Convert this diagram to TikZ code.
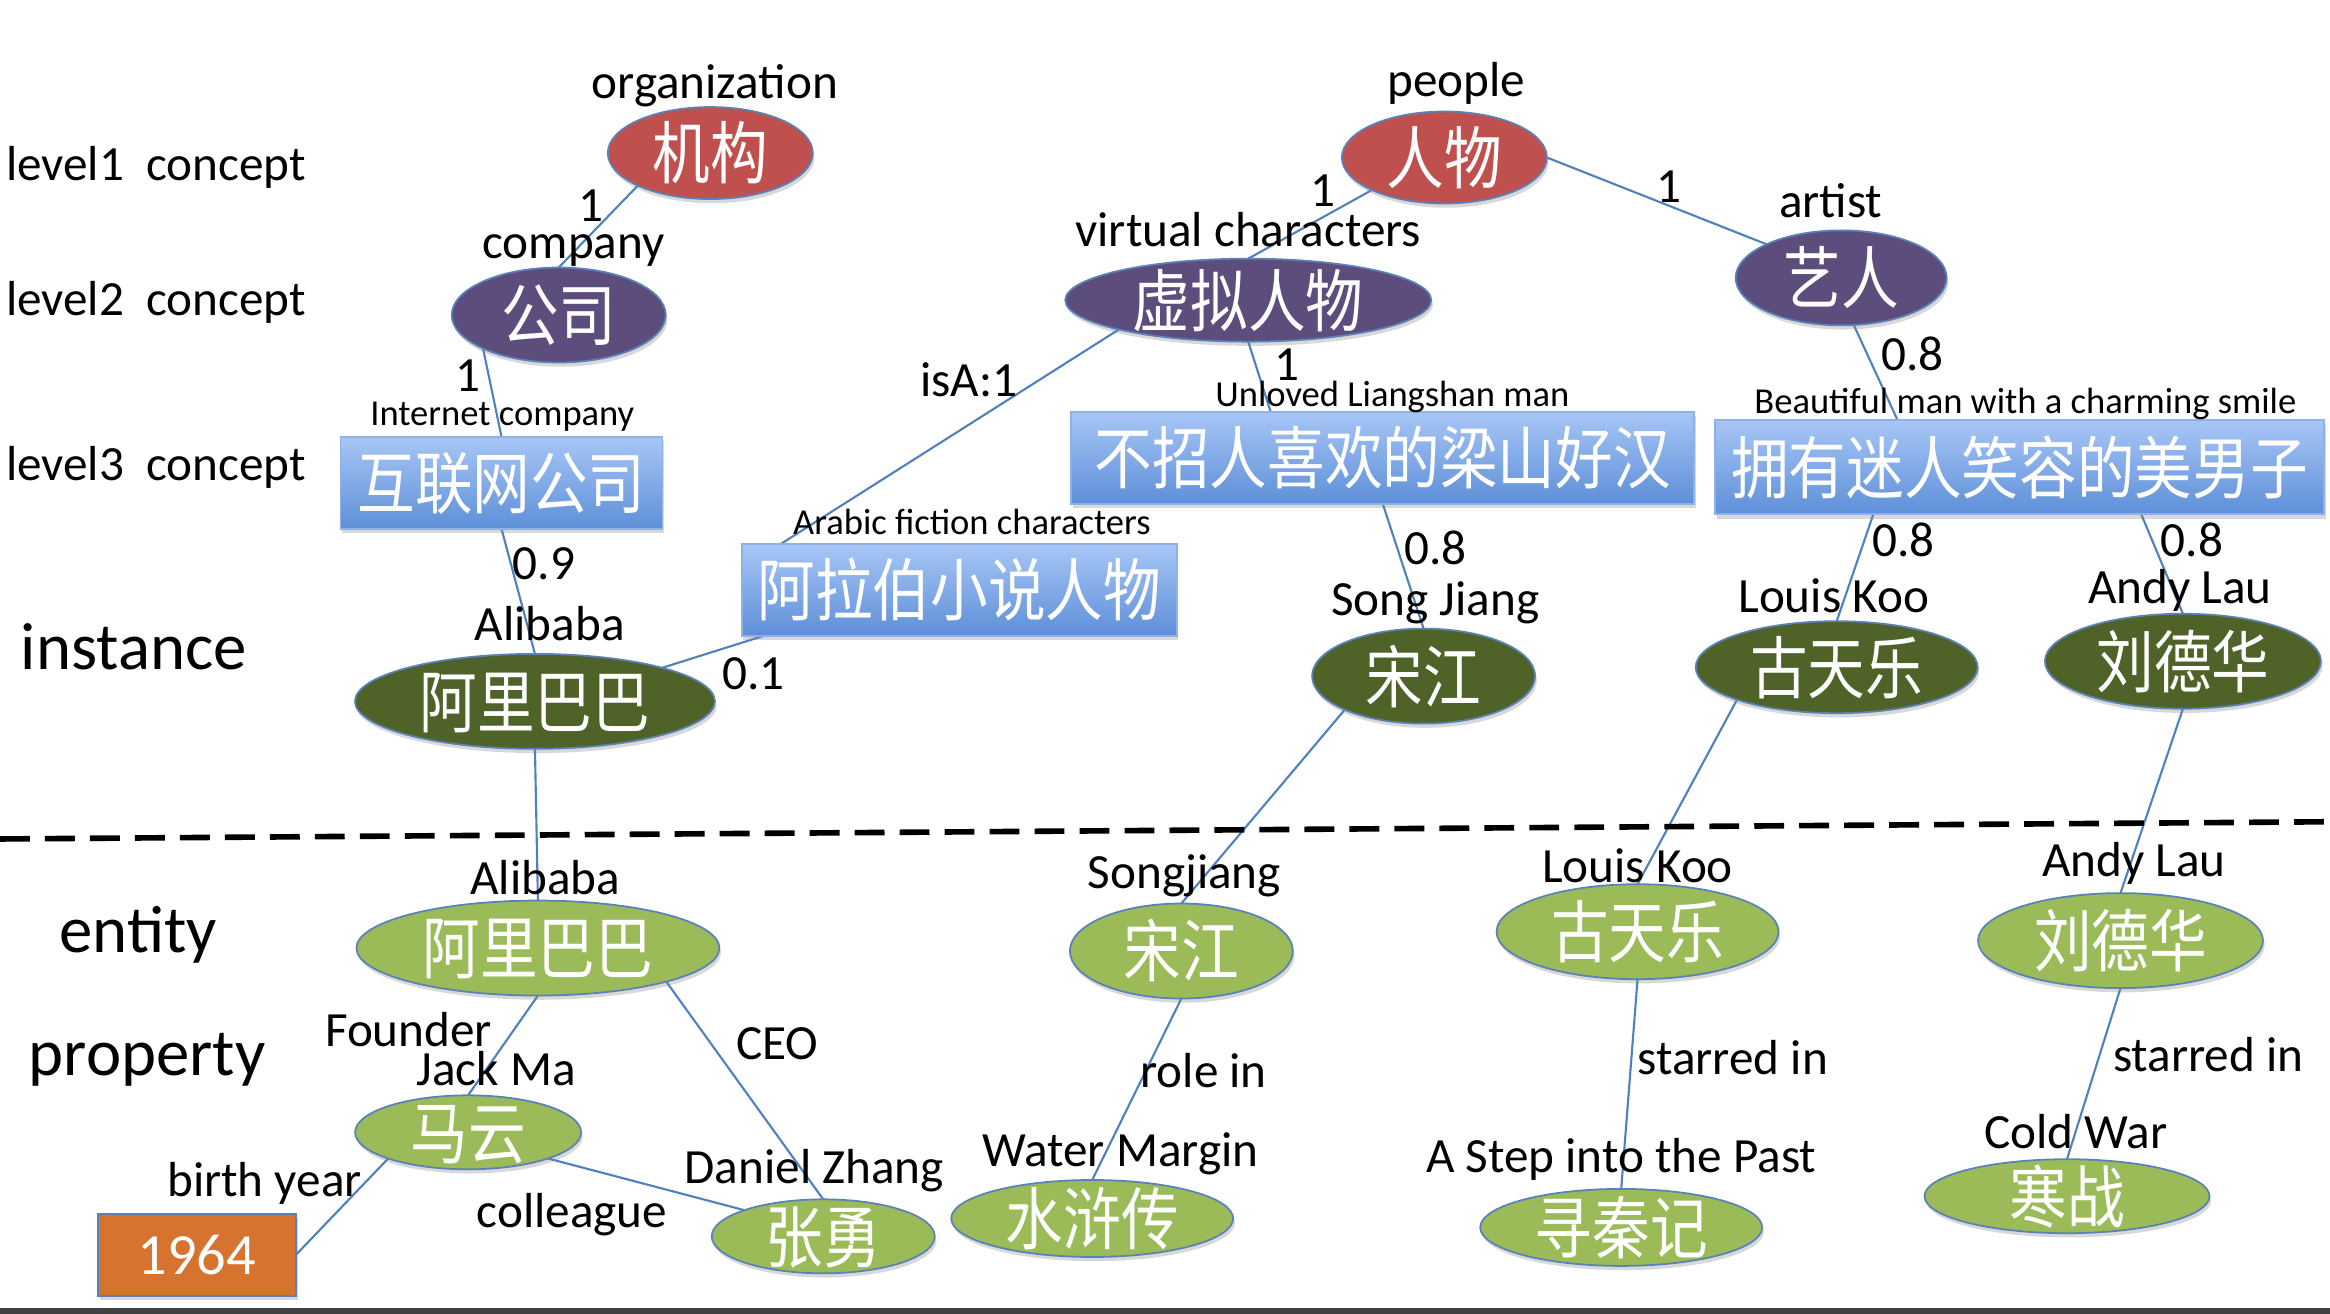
\documentclass[tikz,border=0pt]{standalone}
\usepackage{fontspec}
\setmainfont{Carlito}
\newfontfamily\cjk{Noto Sans CJK SC}
\usetikzlibrary{shapes.geometric,calc,backgrounds,shadows}
\definecolor{edgeblue}{HTML}{4F81BD}
\definecolor{cred}{HTML}{C0504D}
\definecolor{cpurple}{HTML}{5C4D7D}
\definecolor{cdgreen}{HTML}{4F6228}
\definecolor{clgreen}{HTML}{9BBB59}
\definecolor{corange}{HTML}{D6732F}
\definecolor{rtop}{HTML}{A7C6F6}
\definecolor{rbot}{HTML}{5E8FD8}
\definecolor{nborder}{HTML}{5A82B8}
\newcommand{\ct}[1]{\raisebox{-0.45em}[0pt][0pt]{\makebox[0pt]{\scalebox{1}[1.18]{#1}}}}
\tikzset{
  ell/.style={ellipse, inner sep=0pt, outer sep=0pt, draw=nborder, line width=0.5pt,
    text=white, font=\cjk\fontsize{16.4}{18}\selectfont,
    drop shadow={shadow xshift=0.5pt, shadow yshift=-1.2pt, opacity=0.3}},
  redell/.style={ell, fill=cred},
  purell/.style={ell, fill=cpurple},
  dgell/.style={ell, fill=cdgreen},
  lgell/.style={ell, fill=clgreen},
  bluebox/.style={rectangle, inner sep=0pt, outer sep=0pt, draw=rtop!70!nborder, line width=0.5pt,
    top color=rtop, bottom color=rbot, text=white, font=\cjk\fontsize{16.4}{18}\selectfont,
    drop shadow={shadow xshift=0.5pt, shadow yshift=-1.2pt, opacity=0.3}},
  orbox/.style={rectangle, inner sep=0pt, outer sep=0pt, draw=nborder, line width=0.5pt,
    fill=corange, text=white, font=\fontsize{16.6}{18}\selectfont,
    drop shadow={shadow xshift=0.5pt, shadow yshift=-1.2pt, opacity=0.3}},
  lbl/.style={font=\fontsize{14}{16}\selectfont, text height=0.64em, text depth=0pt, inner sep=0pt, yshift=-1.1pt},
  slbl/.style={font=\fontsize{10.4}{12}\selectfont, text height=0.64em, text depth=0pt, inner sep=0pt, yshift=-0.8pt},
  biglbl/.style={font=\fontsize{19}{22}\selectfont, text height=0.64em, text depth=0pt, inner sep=0pt, yshift=-1.4pt},
  edge/.style={draw=edgeblue, line width=0.6pt},
}
\begin{document}
\begin{tikzpicture}[x=0.01486cm, y=-0.01486cm]
\useasboundingbox (0,0) rectangle (1568,884);

% row labels
\node[lbl] (l1) at (105,111) {level1\ \ concept};
\node[lbl] (l2) at (105,202) {level2\ \ concept};
\node[lbl] (l3) at (105,313) {level3\ \ concept};
\node[biglbl] (linst) at (90,440) {instance};
\node[biglbl] (lent) at (93,630) {entity};
\node[biglbl] (lprop) at (99,713) {property};

% concept nodes
\node[redell, minimum width=2.05cm, minimum height=0.92cm] (jigou) at (478,103) {\ct{机构}};
\node[redell, minimum width=2.05cm, minimum height=0.92cm] (renwu) at (972,106) {\ct{人物}};
\node[purell, minimum width=2.14cm, minimum height=0.95cm] (gongsi) at (376,212) {\ct{公司}};
\node[purell, minimum width=3.66cm, minimum height=0.83cm] (xuni) at (840,202) {\ct{虚拟人物}};
\node[purell, minimum width=2.11cm, minimum height=0.95cm] (yiren) at (1239,187) {\ct{艺人}};
\node[bluebox, minimum width=3.22cm, minimum height=0.92cm] (hulian) at (337.5,325) {\ct{互联网公司}};
\node[bluebox, minimum width=6.23cm, minimum height=0.92cm] (buzhao) at (930.5,308) {\ct{不招人喜欢的梁山好汉}};
\node[bluebox, minimum width=6.09cm, minimum height=0.94cm] (yongyou) at (1359,314.5) {\ct{拥有迷人笑容的美男子}};
\node[bluebox, minimum width=4.35cm, minimum height=0.92cm] (alabo) at (645.5,397) {\ct{阿拉伯小说人物}};

% instances
\node[dgell, minimum width=3.60cm, minimum height=0.95cm] (alid) at (360,472) {\ct{阿里巴巴}};
\node[dgell, minimum width=2.23cm, minimum height=0.95cm] (songd) at (958,455) {\ct{宋江}};
\node[dgell, minimum width=2.82cm, minimum height=0.92cm] (gud) at (1236,449) {\ct{古天乐}};
\node[dgell, minimum width=2.76cm, minimum height=0.95cm] (liud) at (1469,445) {\ct{刘德华}};

% entities
\node[lgell, minimum width=3.63cm, minimum height=0.95cm] (alil) at (362,638) {\ct{阿里巴巴}};
\node[lgell, minimum width=2.26cm, minimum height=0.74cm] (mayun) at (315,762) {\ct{马云}};
\node[lgell, minimum width=2.23cm, minimum height=0.74cm] (zhang) at (554,832) {\ct{张勇}};
\node[orbox, minimum width=1.98cm, minimum height=0.82cm] (year) at (132.5,844.5) {1964};
\node[lgell, minimum width=2.23cm, minimum height=0.95cm] (songl) at (795,640) {\ct{宋江}};
\node[lgell, minimum width=2.82cm, minimum height=0.77cm] (shui) at (735,820) {\ct{水浒传}};
\node[lgell, minimum width=2.82cm, minimum height=0.95cm] (gul) at (1102,627) {\ct{古天乐}};
\node[lgell, minimum width=2.82cm, minimum height=0.77cm] (xun) at (1091,826) {\ct{寻秦记}};
\node[lgell, minimum width=2.85cm, minimum height=0.95cm] (liul) at (1427,633) {\ct{刘德华}};
\node[lgell, minimum width=2.85cm, minimum height=0.74cm] (han) at (1391,805) {\ct{寒战}};

% connectors
\begin{pgfonlayer}{background}
\fill[white] (0,0) rectangle (1568,884);
\draw[edge] (jigou.south west) -- (gongsi.north);
\draw[edge] (gongsi.south west) -- (hulian.north);
\draw[edge] (hulian.south) -- (alid.north);
\draw[edge] (alid.north east) -- ($(alabo.south west)!0.05!(alabo.south east)$);
\draw[edge] (xuni.south west) -- ($(alabo.north west)!0.09!(alabo.north east)$);
\draw[edge] (xuni.south) -- ($(buzhao.north west)!0.32!(buzhao.north east)$);
\draw[edge] (renwu.south west) -- (xuni.north);
\draw[edge] (renwu.east) -- (yiren.north west);
\draw[edge] (yiren.-75) -- ($(yongyou.north west)!0.30!(yongyou.north east)$);
\draw[edge] (buzhao.south) -- (songd.north);
\draw[edge] ($(yongyou.south west)!0.26!(yongyou.south east)$) -- (gud.north);
\draw[edge] ($(yongyou.south west)!0.70!(yongyou.south east)$) -- (liud.north);
\draw[edge] (songd.south west) -- (songl.north);
\draw[edge] (gud.south west) -- (gul.north);
\draw[edge] (liud.south) -- (liul.north);
\draw[edge] (alid.south) -- (alil.north);
\draw[edge] (alil.south) -- (mayun.north);
\draw[edge] (alil.south east) -- (zhang.north);
\draw[edge] (mayun.south east) -- (zhang.north west);
\draw[edge] (mayun.south west) -- (year.east);
\draw[edge] (songl.south) -- (shui.north);
\draw[edge] (gul.south) -- (xun.north);
\draw[edge] (liul.south) -- (han.north);
\end{pgfonlayer}

% dashed separator
\coordinate (dl) at (0,564.6);
\coordinate (dr) at (1568,553);
\draw[line width=1.6pt, dash pattern=on 8.5pt off 4.3pt] (dl) -- (dr);

% node labels
\node[lbl] (t1) at (481,56) {organization};
\node[lbl] (t2) at (980,55) {people};
\node[lbl] (t3) at (386,164) {company};
\node[lbl] (t4) at (840,156) {virtual characters};
\node[lbl] (t5) at (1232,136) {artist};
\node[slbl] (t6) at (338,277) {Internet company};
\node[slbl] (t7) at (937,264) {Unloved Liangshan man};
\node[slbl] (t8) at (1363,269) {Beautiful man with a charming smile};
\node[slbl] (t9) at (654,350) {Arabic fiction characters};
\node[lbl] (t10) at (370,421) {Alibaba};
\node[lbl] (t11) at (966,404) {Song Jiang};
\node[lbl] (t12) at (1234,402) {Louis Koo};
\node[lbl] (t13) at (1467,396) {Andy Lau};
\node[lbl] (t14) at (367,592) {Alibaba};
\node[lbl] (t15) at (275,694) {Founder};
\node[lbl] (t16) at (334,720) {Jack Ma};
\node[lbl] (t17) at (523,703) {CEO};
\node[lbl] (t18) at (548,786) {Daniel Zhang};
\node[lbl] (t19) at (178,795) {birth year};
\node[lbl] (t20) at (385,816) {colleague};
\node[lbl] (t21) at (797,588) {Songjiang};
\node[lbl] (t22) at (810,722) {role in};
\node[lbl] (t23) at (754,775) {Water Margin};
\node[lbl] (t24) at (1102,584) {Louis Koo};
\node[lbl] (t25) at (1166,713) {starred in};
\node[lbl] (t26) at (1091,779) {A Step into the Past};
\node[lbl] (t27) at (1436,580) {Andy Lau};
\node[lbl] (t28) at (1486,711) {starred in};
\node[lbl] (t29) at (1397,763) {Cold War};

% edge weights
\node[lbl] (w1) at (398,139) {1};
\node[lbl] (w2) at (315,253) {1};
\node[lbl] (w3) at (366,380) {0.9};
\node[lbl] (w4) at (507,454) {0.1};
\node[lbl] (w5) at (652,257) {isA:1};
\node[lbl] (w6) at (890,129) {1};
\node[lbl] (w7) at (1123,126) {1};
\node[lbl] (w8) at (866,246) {1};
\node[lbl] (w9) at (1287,239) {0.8};
\node[lbl] (w10) at (966,370) {0.8};
\node[lbl] (w11) at (1281,364) {0.8};
\node[lbl] (w12) at (1475,364) {0.8};

% bottom bar
\fill[black!75] (0,880) rectangle (1568,884);
\end{tikzpicture}
\end{document}
